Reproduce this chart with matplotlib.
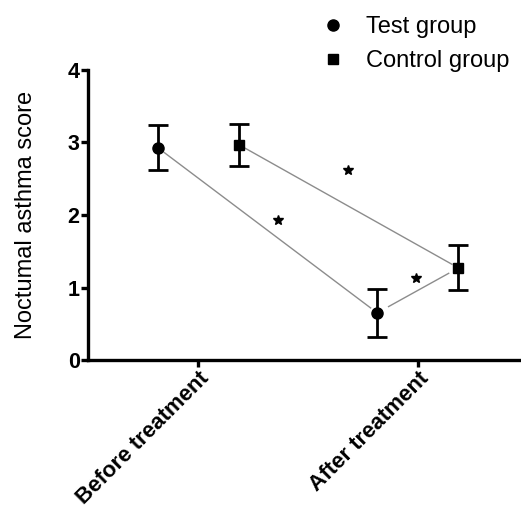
import matplotlib
matplotlib.use("Agg")
import matplotlib.pyplot as plt
from matplotlib.lines import Line2D
import numpy as np

plt.rcParams['font.family'] = ['Liberation Sans', 'DejaVu Sans']

categories = ["Before treatment", "After treatment"]
groups = ["Test group", "Control group"]
test_mean = [2.93, 0.65]
test_err = [0.31, 0.33]
control_mean = [2.97, 1.27]
control_err = [0.29, 0.31]
sig_x = [0.365, 0.68, 0.99]
sig_y = [1.93, 2.62, 1.13]

offset = 0.185
x = np.arange(len(categories))
xt = x - offset
xc = x + offset

fig = plt.figure(figsize=(5.21, 5.09), dpi=100)
ax = fig.add_axes([0.169, 0.2927, 0.831, 0.5698])

def seg(x0, y0, x1, y1, a=0.04, b=0.96):
    xs = [x0 + (x1 - x0) * a, x0 + (x1 - x0) * b]
    ys = [y0 + (y1 - y0) * a, y0 + (y1 - y0) * b]
    ax.plot(xs, ys, color='#8c8c8c', lw=1.0, zorder=1)

seg(xt[0], test_mean[0], xt[1], test_mean[1], 0.03, 0.97)
seg(xc[0], control_mean[0], xc[1], control_mean[1], 0.03, 0.97)
seg(xt[1], test_mean[1], xc[1], control_mean[1], 0.14, 0.88)

ax.errorbar(xt, test_mean, yerr=test_err, fmt='o', color='black', ms=8,
            elinewidth=2.0, capsize=7, capthick=2.0, zorder=3)
ax.errorbar(xc, control_mean, yerr=control_err, fmt='s', color='black', ms=7.5,
            elinewidth=2.0, capsize=7, capthick=2.0, zorder=3)

ax.plot(sig_x, sig_y, linestyle='none', marker='*', color='black', ms=7, zorder=2)

ax.set_xlim(-0.502, 1.47)
ax.set_ylim(0, 4)
ax.set_yticks([0, 1, 2, 3, 4])
ax.set_yticklabels(['0', '1', '2', '3', '4'], fontsize=15.5, fontweight='bold')
ax.set_xticks(x)
ax.set_xticklabels(categories, fontsize=16, fontweight='bold', rotation=45,
                   ha='right', va='top', rotation_mode='anchor')
for s in ['top', 'right']:
    ax.spines[s].set_visible(False)
for s in ['left', 'bottom']:
    ax.spines[s].set_linewidth(2.4)
ax.tick_params(axis='both', width=2.4, length=5, pad=1)
ax.tick_params(axis='y', pad=1)
ax.set_ylabel("Noctumal asthma score", fontsize=17, labelpad=22)

handles = [Line2D([], [], marker='o', color='black', linestyle='none', ms=8),
           Line2D([], [], marker='s', color='black', linestyle='none', ms=7.5)]
fig.legend(handles, groups, loc='upper left', bbox_to_anchor=(0.576, 1.01),
           frameon=False, fontsize=17, handlelength=1.0, handletextpad=0.9,
           labelspacing=0.5)

fig.savefig("out.png", dpi=100)
